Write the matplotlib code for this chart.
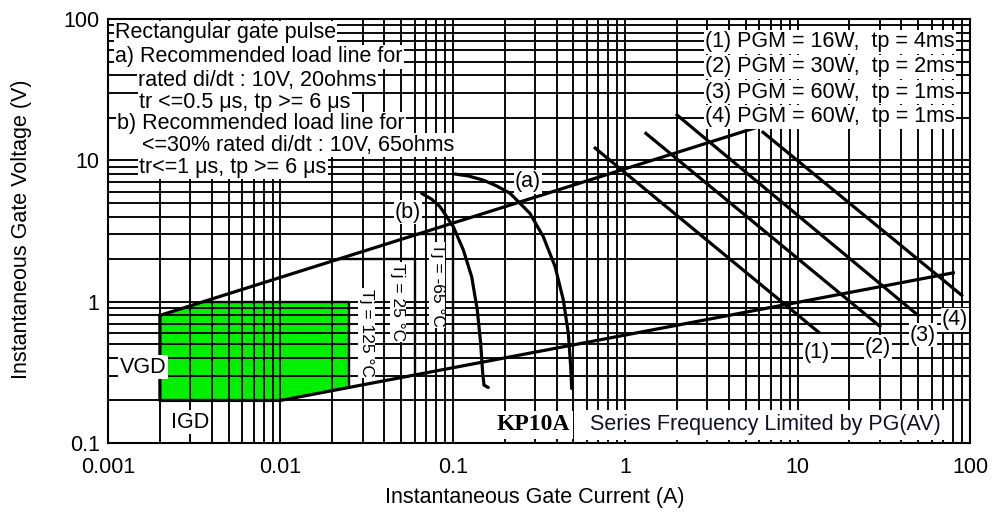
import numpy as np
import matplotlib
matplotlib.use('Agg')
import matplotlib.pyplot as plt
from matplotlib.ticker import FixedLocator, FixedFormatter, LogLocator, NullFormatter

plt.rcParams['font.family'] = ['Liberation Sans', 'DejaVu Sans']

# ---------------- data ----------------
x_ticks = [0.001, 0.01, 0.1, 1, 10, 100]
x_tick_labels = ['0.001', '0.01', '0.1', '1', '10', '100']
y_ticks = [0.1, 1, 10, 100]
y_tick_labels = ['0.1', '1', '10', '100']

# recommended load lines (upper and lower boundary)
load_a_I = [0.002, 5.7]
load_a_V = [0.8, 17.0]
load_b_I = [0.01, 80.0]
load_b_V = [0.2, 1.6]

# non-trigger limits
igd_I = 0.002
vgd_V = 0.2

# gate characteristic curves (a) and (b)
curve_a_I = [0.103, 0.123, 0.150, 0.180, 0.215, 0.280, 0.335, 0.392, 0.4375, 0.468, 0.483, 0.4895]
curve_a_V = [8.0, 7.75, 7.25, 6.58, 5.84, 4.22, 2.88, 1.77, 1.03, 0.596, 0.346, 0.243]
curve_b_I = [0.066, 0.0755, 0.0843, 0.1007, 0.1151, 0.1287, 0.1387, 0.1451, 0.1491, 0.1517, 0.1606]
curve_b_V = [5.84, 5.30, 4.70, 3.39, 2.32, 1.50, 0.872, 0.507, 0.311, 0.257, 0.247]

# junction temperature trigger boxes
tj_I = [0.025, 0.06, 0.1]
tj_V = [1.0, 2.0, 3.0]
tj_labels = ['Tj = 125 °C', 'Tj = 25 °C', 'Tj = -65 °C']

# peak gate power lines
pgm_labels = ['(1)', '(2)', '(3)', '(4)']
pgm_I_start = [0.67, 1.32, 2.0, 6.3]
pgm_V_start = [12.2, 15.5, 20.9, 15.8]
pgm_I_end = [13.2, 30.0, 50.0, 89.5]
pgm_V_end = [0.61, 0.67, 0.80, 1.11]
pgm_legend = ['(1) PGM = 16W,  tp = 4ms',
              '(2) PGM = 30W,  tp = 2ms',
              '(3) PGM = 60W,  tp = 1ms',
              '(4) PGM = 60W,  tp = 1ms']

notes = ['Rectangular gate pulse',
         'a) Recommended load line for',
         'rated di/dt : 10V, 20ohms',
         'tr <=0.5 μs, tp >= 6 μs',
         'b) Recommended load line for',
         '<=30% rated di/dt : 10V, 65ohms',
         'tr<=1 μs, tp >= 6 μs']


def log_interp(x, xs, ys):
    return 10 ** np.interp(np.log10(x), np.log10(xs), np.log10(ys))


# ---------------- figure ----------------
fig = plt.figure(figsize=(9.92, 5.15), dpi=100)
ax = fig.add_axes([0.10887, 0.13981, 0.86895, 0.8233])
ax.set_xscale('log')
ax.set_yscale('log')
ax.set_xlim(0.001, 100)
ax.set_ylim(0.1, 100)

ax.xaxis.set_major_locator(FixedLocator(x_ticks))
ax.xaxis.set_major_formatter(FixedFormatter(x_tick_labels))
ax.yaxis.set_major_locator(FixedLocator(y_ticks))
ax.yaxis.set_major_formatter(FixedFormatter(y_tick_labels))
ax.xaxis.set_minor_locator(LogLocator(base=10, subs=range(2, 10)))
ax.yaxis.set_minor_locator(LogLocator(base=10, subs=range(2, 10)))
ax.xaxis.set_minor_formatter(NullFormatter())
ax.yaxis.set_minor_formatter(NullFormatter())
ax.tick_params(which='both', length=0, labelsize=15.5)
ax.tick_params(axis='x', pad=10)
ax.tick_params(axis='y', pad=6)

ax.set_axisbelow('line')
ax.grid(which='both', color='black', lw=1.35)
for s in ax.spines.values():
    s.set_linewidth(1.5)

LW = 2.3

# green trigger-free region
I_v1 = 10 ** np.interp(np.log10(tj_V[0]), np.log10(load_a_V), np.log10(load_a_I))
poly = [(igd_I, vgd_V), (igd_I, load_a_V[0]), (I_v1, tj_V[0]), (tj_I[0], tj_V[0]),
        (tj_I[0], log_interp(tj_I[0], load_b_I, load_b_V)), (load_b_I[0], load_b_V[0])]
ax.add_patch(plt.Polygon(poly, closed=True, facecolor='#00f000', edgecolor='none', zorder=1))

# load lines
ax.plot(load_a_I, load_a_V, color='black', lw=LW, zorder=2)
ax.plot([igd_I, igd_I] + load_b_I, [load_a_V[0], vgd_V] + load_b_V, color='black', lw=LW, zorder=2)

# Tj boxes
for I, V in zip(tj_I, tj_V):
    I_left = 10 ** np.interp(np.log10(V), np.log10(load_a_V), np.log10(load_a_I))
    V_low = log_interp(I, load_b_I, load_b_V)
    ax.plot([I_left, I, I], [V, V, V_low], color='black', lw=1.7, zorder=2)

# curves (a), (b)
ax.plot(curve_a_I, curve_a_V, color='black', lw=LW, zorder=2, solid_capstyle='round',
        solid_joinstyle='round')
ax.plot(curve_b_I, curve_b_V, color='black', lw=LW, zorder=2, solid_capstyle='round',
        solid_joinstyle='round')

# PGM lines
for i in range(4):
    ax.plot([pgm_I_start[i], pgm_I_end[i]], [pgm_V_start[i], pgm_V_end[i]],
            color='black', lw=LW, zorder=2)

# ---------------- texts ----------------
wb = dict(facecolor='white', edgecolor='none', pad=1.0)
FS = 15.5
note_pos = [(0.0081, 0.967), (0.0081, 0.9104), (0.0348, 0.8561), (0.036, 0.8042),
            (0.0104, 0.7524), (0.0394, 0.7028), (0.036, 0.6509)]
for t, (fx, fy) in zip(notes, note_pos):
    ax.text(fx, fy, t, transform=ax.transAxes, ha='left', va='center', fontsize=FS,
            bbox=wb, zorder=3)

leg_y = [0.9458, 0.8868, 0.8278, 0.7689]
for t, fy in zip(pgm_legend, leg_y):
    ax.text(0.6926, fy, t, transform=ax.transAxes, ha='left', va='center', fontsize=FS,
            bbox=wb, zorder=3)

lbl_pos = [(0.8225, 0.2146), (0.8933, 0.2264), (0.9455, 0.2547), (0.9826, 0.2901)]
for t, (fx, fy) in zip(pgm_labels, lbl_pos):
    ax.text(fx, fy, t, transform=ax.transAxes, ha='center', va='center', fontsize=FS,
            bbox=wb, zorder=3)

ax.text(0.4872, 0.6156, '(a)', transform=ax.transAxes, ha='center', va='center',
        fontsize=FS, bbox=wb, zorder=3)
ax.text(0.348, 0.5448, '(b)', transform=ax.transAxes, ha='center', va='center',
        fontsize=FS, bbox=wb, zorder=3)
ax.text(0.0406, 0.1792, 'VGD', transform=ax.transAxes, ha='center', va='center',
        fontsize=FS, bbox=wb, zorder=3)
ax.text(0.0951, 0.0495, 'IGD', transform=ax.transAxes, ha='center', va='center',
        fontsize=FS, bbox=wb, zorder=3)

tj_pos = [(0.3001, 0.2594), (0.3364, 0.3325), (0.3817, 0.3726)]
for t, (fx, fy) in zip(tj_labels, tj_pos):
    ax.text(fx, fy, t, transform=ax.transAxes, ha='center', va='center', rotation=270,
            fontsize=12.5, bbox=dict(facecolor='white', edgecolor='none', pad=0.5), zorder=3)

ax.text(0.4930, 0.0425, 'KP10A', transform=ax.transAxes, ha='center', va='center',
        fontsize=17, fontweight='bold', family=['Liberation Serif', 'DejaVu Serif'],
        bbox=dict(facecolor='white', edgecolor='none', pad=2.5), zorder=3)
ax.text(0.7622, 0.0425, 'Series Frequency Limited by PG(AV)', transform=ax.transAxes,
        ha='center', va='center', fontsize=FS, color='#10102a',
        bbox=dict(facecolor='white', edgecolor='none', pad=3.0), zorder=3)

fig.text(535 / 992, 1 - 498 / 515, 'Instantaneous Gate Current (A)', ha='center',
         va='center', fontsize=FS)
fig.text(22 / 992, 1 - 229 / 515, 'Instantaneous Gate Voltage (V)', ha='center',
         va='center', rotation=90, fontsize=FS)

fig.savefig('out.png', dpi=100)
